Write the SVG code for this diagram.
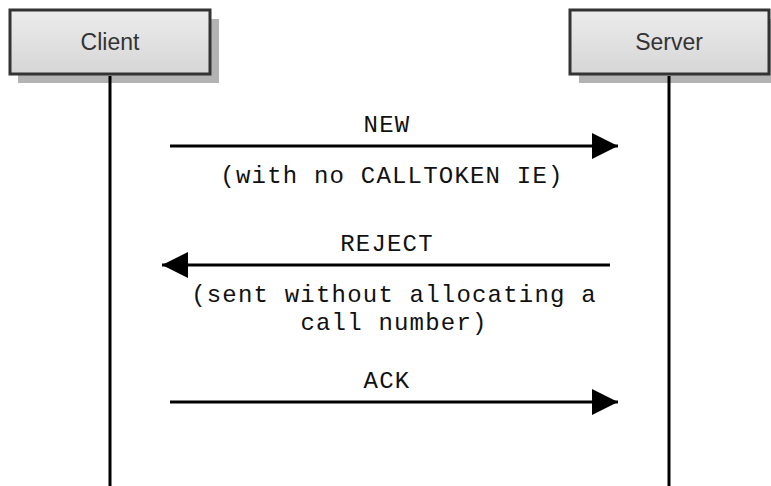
<svg xmlns="http://www.w3.org/2000/svg" width="771" height="486" viewBox="0 0 771 486">
<defs>
<linearGradient id="g" x1="0" y1="0" x2="0" y2="1"><stop offset="0" stop-color="#ececec"/><stop offset="1" stop-color="#d6d6d6"/></linearGradient>
<marker id="ah" viewBox="0 0 10 10" refX="10" refY="5" markerWidth="27" markerHeight="26" markerUnits="userSpaceOnUse" orient="auto"><path d="M0,0 L10,5 L0,10 Z" fill="#000"/></marker>
<style>
.shadow{fill:#b3b3b3}
.box{fill:url(#g);stroke:#333;stroke-width:3}
.lbl{font-family:"Liberation Sans",Arial,sans-serif;font-size:23px;fill:#333;text-anchor:middle}
.life{stroke:#000;stroke-width:3}
.msg{stroke:#000;stroke-width:3;fill:none;marker-end:url(#ah)}
.t{font-family:"Liberation Mono","Courier New",monospace;font-size:24px;letter-spacing:1.2px;fill:#111;text-anchor:middle}
</style>
</defs>
<rect width="771" height="486" fill="#fff"/>
<g id="client">
<rect class="shadow" x="18" y="19" width="201" height="64"/>
<rect class="box" x="10" y="10" width="200" height="64"/>
<text class="lbl" x="110" y="50">Client</text>
</g>
<g id="server">
<rect class="shadow" x="579" y="19" width="201" height="64"/>
<rect class="box" x="570" y="10" width="199" height="64"/>
<text class="lbl" x="669" y="50">Server</text>
</g>
<g id="connectors">
<line class="life" x1="110" y1="76" x2="110" y2="486"/>
<line class="life" x1="669" y1="76" x2="669" y2="486"/>
<line class="msg" x1="170" y1="146" x2="618" y2="146"/>
<line class="msg" x1="610" y1="265" x2="162" y2="265"/>
<line class="msg" x1="170" y1="402" x2="618" y2="402"/>
<text class="t" x="387" y="132">NEW</text>
<text class="t" x="392" y="183">(with no CALLTOKEN IE)</text>
<text class="t" x="387" y="251">REJECT</text>
<text class="t" x="394" y="302">(sent without allocating a</text>
<text class="t" x="394" y="330">call number)</text>
<text class="t" x="387" y="388">ACK</text>
</g>
</svg>
